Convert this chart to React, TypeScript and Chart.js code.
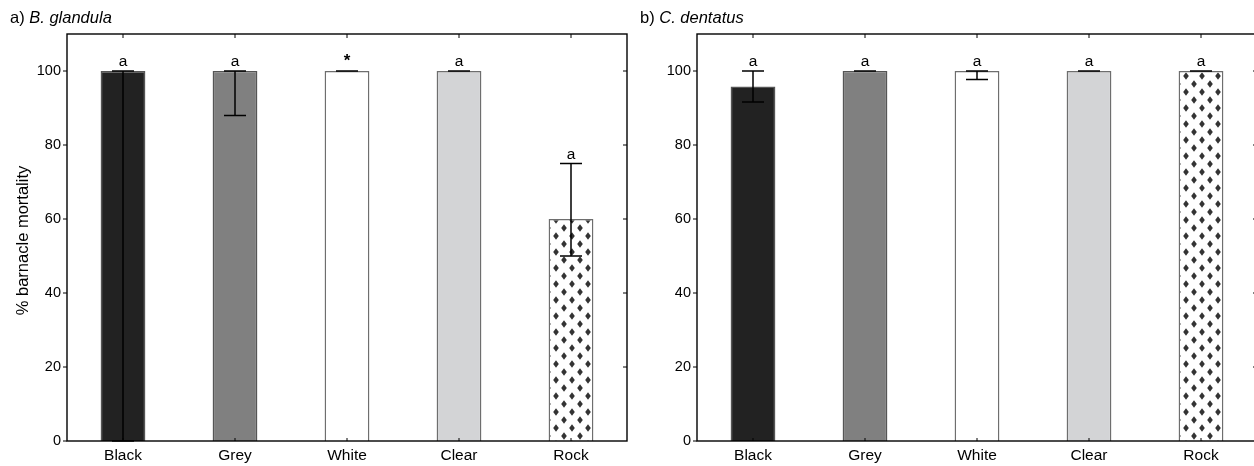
import React, { useEffect, useRef } from 'react';
import { Chart, registerables } from 'chart.js';

Chart.register(...registerables);

const categories = ['Black', 'Grey', 'White', 'Clear', 'Rock'];

const glandulaMortality = [100, 100, 100, 100, 60];
const glandulaErrLow = [0, 88, 100, 100, 50];
const glandulaErrHigh = [100, 100, 100, 100, 75];
const glandulaLetters = ['a', 'a', '*', 'a', 'a'];

const dentatusMortality = [95.8, 100, 100, 100, 100];
const dentatusErrLow = [91.6, 100, 97.7, 100, 100];
const dentatusErrHigh = [100, 100, 100, 100, 100];
const dentatusLetters = ['a', 'a', 'a', 'a', 'a'];

const yTickValues = [0, 20, 40, 60, 80, 100];
const yAxisTitle = '% barnacle mortality';

const FONT = '"Liberation Sans", Arial, Helvetica, sans-serif';

function makePattern(): CanvasPattern | string {
  const c = document.createElement('canvas');
  c.width = 16;
  c.height = 16;
  const g = c.getContext('2d');
  if (!g) return '#fff';
  g.fillStyle = '#ffffff';
  g.fillRect(0, 0, 16, 16);
  g.fillStyle = '#333333';
  const dia = (cx: number, cy: number) => {
    g.beginPath();
    g.moveTo(cx, cy - 3.7);
    g.lineTo(cx + 2.8, cy);
    g.lineTo(cx, cy + 3.7);
    g.lineTo(cx - 2.8, cy);
    g.closePath();
    g.fill();
  };
  dia(4, 4);
  dia(12, 12);
  return g.createPattern(c, 'repeat') || '#fff';
}

type PanelProps = {
  values: number[];
  low: number[];
  high: number[];
  letters: string[];
  label: string;
  species: string;
  showYTitle: boolean;
};

function Panel({ values, low, high, letters, label, species, showYTitle }: PanelProps) {
  const ref = useRef<HTMLCanvasElement>(null);

  useEffect(() => {
    if (!ref.current) return;
    const pattern = makePattern();
    const fills = ['#222222', '#808080', '#ffffff', '#d3d4d6', pattern];

    const decor = {
      id: 'decor',
      afterDatasetsDraw(chart: any) {
        const ctx = chart.ctx;
        const xs = chart.scales.x;
        const ys = chart.scales.y;
        ctx.save();
        // error bars
        ctx.strokeStyle = '#000';
        ctx.lineWidth = 1.5;
        for (let i = 0; i < values.length; i++) {
          const px = xs.getPixelForValue(i);
          const yh = ys.getPixelForValue(high[i]);
          const yl = ys.getPixelForValue(low[i]);
          ctx.beginPath();
          ctx.moveTo(px, yh);
          ctx.lineTo(px, yl);
          ctx.moveTo(px - 11, yh);
          ctx.lineTo(px + 11, yh);
          ctx.moveTo(px - 11, yl);
          ctx.lineTo(px + 11, yl);
          ctx.stroke();
        }
        // letters
        ctx.fillStyle = '#000';
        ctx.textAlign = 'center';
        ctx.textBaseline = 'alphabetic';
        for (let i = 0; i < values.length; i++) {
          const px = xs.getPixelForValue(i);
          const top = ys.getPixelForValue(Math.max(high[i], values[i]));
          const isStar = letters[i] === '*';
          ctx.font = `${isStar ? 'bold 17px' : '15.5px'} ${FONT}`;
          ctx.fillText(letters[i], px, top - 5);
        }
        ctx.restore();
      },
      afterDraw(chart: any) {
        const ctx = chart.ctx;
        const a = chart.chartArea;
        const xs = chart.scales.x;
        const ys = chart.scales.y;
        ctx.save();
        ctx.strokeStyle = '#000';
        ctx.lineWidth = 1.4;
        ctx.strokeRect(a.left, a.top, a.right - a.left, a.bottom - a.top);
        ctx.lineWidth = 1;
        ctx.beginPath();
        for (const v of yTickValues) {
          const py = ys.getPixelForValue(v);
          ctx.moveTo(a.left - 4, py);
          ctx.lineTo(a.left, py);
          if (v > 0) {
            ctx.moveTo(a.right - 4, py);
            ctx.lineTo(a.right, py);
          }
        }
        for (let i = 0; i < categories.length; i++) {
          const px = xs.getPixelForValue(i);
          ctx.moveTo(px, a.top);
          ctx.lineTo(px, a.top + 4);
          ctx.moveTo(px, a.bottom);
          ctx.lineTo(px, a.bottom - 3);
        }
        ctx.stroke();

        // panel title
        ctx.fillStyle = '#000';
        ctx.textAlign = 'left';
        ctx.textBaseline = 'alphabetic';
        ctx.font = `16.5px ${FONT}`;
        const lead = label + ' ';
        ctx.fillText(lead, 10, 23);
        const w = ctx.measureText(lead).width;
        ctx.font = `italic 16.5px ${FONT}`;
        ctx.fillText(species, 10 + w, 23);

        if (showYTitle) {
          ctx.save();
          ctx.translate(23, (a.top + a.bottom) / 2 + 3);
          ctx.rotate(-Math.PI / 2);
          ctx.textAlign = 'center';
          ctx.textBaseline = 'middle';
          ctx.font = `16.5px ${FONT}`;
          ctx.fillText(yAxisTitle, 0, 0);
          ctx.restore();
        }
        ctx.restore();
      },
    };

    const chart = new Chart(ref.current, {
      type: 'bar',
      data: {
        labels: categories,
        datasets: [
          {
            data: values,
            backgroundColor: fills as any,
            borderColor: ['#555555', '#555555', '#6e6e6e', '#6e6e6e', '#6e6e6e'],
            borderWidth: 1.5,
            barPercentage: 0.4,
            categoryPercentage: 1,
          },
        ],
      },
      options: {
        responsive: false,
        animation: false,
        events: [],
        layout: { padding: { top: 34, right: 3, left: 0, bottom: 0 } },
        plugins: { legend: { display: false }, tooltip: { enabled: false }, title: { display: false } },
        scales: {
          x: {
            grid: { display: false, drawTicks: false },
            border: { display: false },
            ticks: { color: '#000', padding: 5, font: { family: FONT, size: 15.5 } },
            afterFit(scale: any) {
              scale.height = 25;
            },
          },
          y: {
            min: 0,
            max: 110,
            grid: { display: false, drawTicks: false },
            border: { display: false },
            ticks: { stepSize: 20, color: '#000', padding: 6, font: { family: FONT, size: 14.5 } },
            afterBuildTicks(scale: any) {
              scale.ticks = yTickValues.map((v) => ({ value: v }));
            },
            afterFit(scale: any) {
              scale.width = 67;
            },
          },
        },
      },
      plugins: [decor],
    });
    return () => chart.destroy();
  }, [values, low, high, letters, label, species, showYTitle]);

  return <canvas ref={ref} width={630} height={466} />;
}

export default function App() {
  return (
    <div
      style={{
        position: 'fixed',
        left: 0,
        top: 0,
        width: 1254,
        height: 466,
        overflow: 'hidden',
        background: '#fff',
      }}
    >
      <div style={{ position: 'absolute', left: 0, top: 0 }}>
        <Panel
          values={glandulaMortality}
          low={glandulaErrLow}
          high={glandulaErrHigh}
          letters={glandulaLetters}
          label="a)"
          species="B. glandula"
          showYTitle={true}
        />
      </div>
      <div style={{ position: 'absolute', left: 630, top: 0 }}>
        <Panel
          values={dentatusMortality}
          low={dentatusErrLow}
          high={dentatusErrHigh}
          letters={dentatusLetters}
          label="b)"
          species="C. dentatus"
          showYTitle={false}
        />
      </div>
    </div>
  );
}
